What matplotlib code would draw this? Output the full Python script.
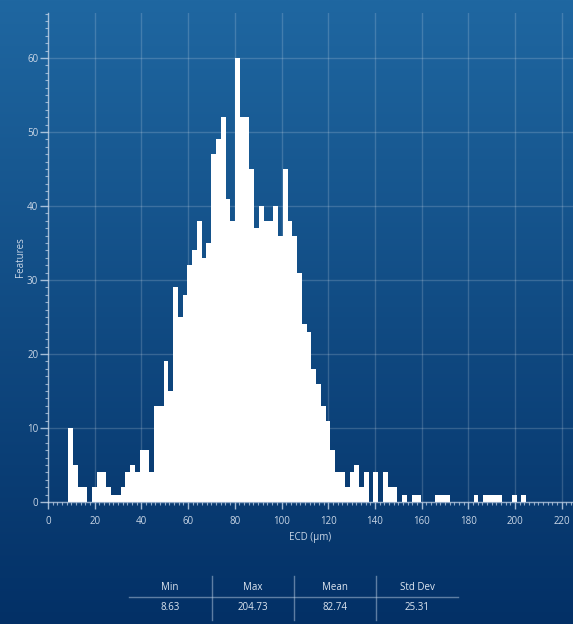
import numpy as np
import matplotlib
matplotlib.use("Agg")
import matplotlib.pyplot as plt
from matplotlib.ticker import MultipleLocator
from matplotlib.lines import Line2D

# ---- data ----
ecd_min = 8.63
ecd_max = 204.73
counts = [10, 5, 2, 2, 0, 2, 4, 4, 2, 1,
          1, 2, 4, 5, 4, 7, 7, 4, 13, 13,
          19, 15, 29, 25, 28, 32, 34, 38, 33, 35,
          47, 49, 52, 41, 38, 60, 52, 52, 45, 37,
          40, 38, 38, 40, 36, 45, 38, 36, 31, 24,
          23, 18, 16, 13, 11, 7, 4, 4, 2, 4,
          5, 2, 4, 0, 4, 0, 4, 2, 2, 0,
          1, 0, 1, 1, 0, 0, 0, 1, 1, 1,
          0, 0, 0, 0, 0, 1, 0, 1, 1, 1,
          1, 0, 0, 1, 0, 1]
stat_names = ["Min", "Max", "Mean", "Std Dev"]
stat_values = ["8.63", "204.73", "82.74", "25.31"]
x_label = "ECD (µm)"
y_label = "Features"

W, H = 573, 624
fig = plt.figure(figsize=(W / 100, H / 100), dpi=100)
plt.rcParams['font.family'] = ['Open Sans', 'DejaVu Sans']

# gradient background
bg = fig.add_axes([0, 0, 1, 1], zorder=-10)
top = np.array([31, 103, 161]) / 255
bot = np.array([3, 48, 102]) / 255
t = np.linspace(0, 1, 256)[:, None]
grad = top[None, :] * (1 - t) + bot[None, :] * t
bg.imshow(grad[:, None, :], aspect='auto', extent=[0, 1, 0, 1])
bg.set_axis_off()

# main axes
left_px, right_px, top_px, bottom_px = 48, 573, 13, 502
ax = fig.add_axes([left_px / W, 1 - bottom_px / H, (right_px - left_px) / W, (bottom_px - top_px) / H])
ax.set_facecolor('none')

edges = np.linspace(ecd_min, ecd_max, len(counts) + 1)
ax.stairs(counts, edges, fill=True, color='white', linewidth=0, zorder=3)

ax.set_xlim(0, (right_px - left_px) / 2.335)
ax.set_ylim(0, (bottom_px - top_px) / 7.4)

tick_col = '#c9d6e6'
ax.xaxis.set_major_locator(MultipleLocator(20))
ax.xaxis.set_minor_locator(MultipleLocator(2))
ax.yaxis.set_major_locator(MultipleLocator(10))
ax.yaxis.set_minor_locator(MultipleLocator(1))

for s in ['top', 'right']:
    ax.spines[s].set_visible(False)
for s in ['left', 'bottom']:
    ax.spines[s].set_color((0.8, 0.86, 0.93, 0.7))
    ax.spines[s].set_linewidth(1)
    ax.spines[s].set_zorder(4)

ax.tick_params(axis='both', which='major', colors=(0.8, 0.86, 0.93, 0.8), labelcolor=tick_col,
               labelsize=7)
ax.tick_params(axis='x', which='major', length=5, width=1, pad=5)
ax.tick_params(axis='x', which='minor', length=2.5, width=0.8, colors=(0.8, 0.86, 0.93, 0.7))
ax.tick_params(axis='y', which='major', length=6, width=1, pad=1)
ax.tick_params(axis='y', which='minor', length=2, width=0.8, colors=(0.8, 0.86, 0.93, 0.7))

ax.set_axisbelow(True)
ax.grid(True, which='major', color='white', alpha=0.17, linewidth=1)
ax.grid(False, which='minor')

ax.set_xlabel(x_label, color=tick_col, fontsize=7, labelpad=4)
ax.set_ylabel(y_label, color=tick_col, fontsize=7, labelpad=1)

# stats table
col_x = [170, 253, 335, 417]
for name, val, cx in zip(stat_names, stat_values, col_x):
    fig.text(cx / W, 1 - 587 / H, name, ha='center', va='center', color='#dfe7f1', fontsize=7)
    fig.text(cx / W, 1 - 607 / H, val, ha='center', va='center', color='#dfe7f1', fontsize=7)
line_col = (0.8, 0.86, 0.93, 0.45)
fig.add_artist(Line2D([129 / W, 458 / W], [1 - 597 / H, 1 - 597 / H], color=line_col, lw=1))
for vx in [212, 294, 376]:
    fig.add_artist(Line2D([vx / W, vx / W], [1 - 576 / H, 1 - 620 / H], color=line_col, lw=1))

fig.savefig("out.png", dpi=100)
